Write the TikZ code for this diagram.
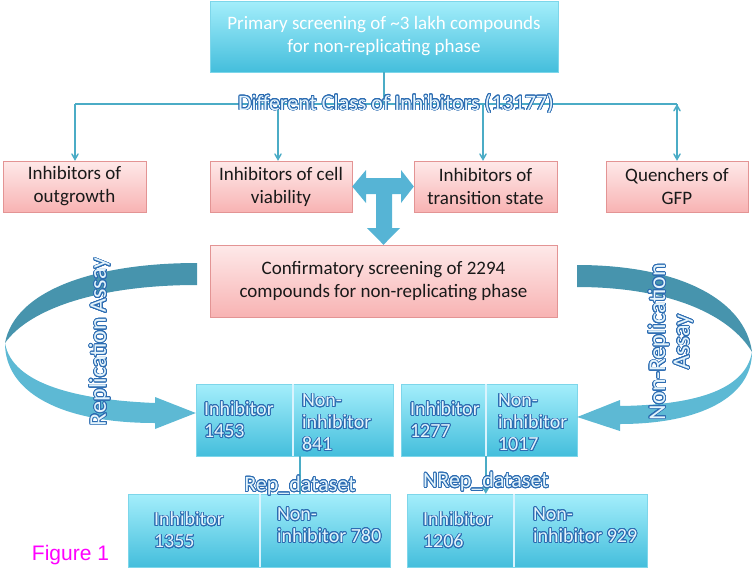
\documentclass[tikz,border=0pt]{standalone}
\usepackage{fontspec}
\setmainfont{Carlito}
\newfontfamily\figfont{Liberation Sans}
\usepackage{contour}
\contourlength{0.8pt}
\contournumber{24}
\usetikzlibrary{arrows}

\definecolor{linecol}{HTML}{4BACC6}
\definecolor{cyantop}{HTML}{A4EEFB}
\definecolor{cyanbot}{HTML}{44BEDC}
\definecolor{cyanrim}{HTML}{7DD6EA}
\definecolor{pinktop}{HTML}{FEE9E9}
\definecolor{pinkbot}{HTML}{F8B3B3}
\definecolor{pinkrim}{HTML}{E39494}
\definecolor{olfill}{HTML}{E4F4FC}
\definecolor{olrim}{HTML}{2C6CB2}
\definecolor{tarrow}{HTML}{56B4D5}
\definecolor{ribdark}{HTML}{4794AD}
\definecolor{riblight}{HTML}{5DB9D4}
\definecolor{figpink}{HTML}{FF00FF}

% outlined label text
\newcommand{\olt}[1]{{\color{olfill}\contour{olrim}{#1}}}

\begin{document}
\begin{tikzpicture}[x=1pt,y=-1pt,>=angle 60,
    cyanbox/.style={draw=cyanrim,top color=cyantop,bottom color=cyanbot,inner sep=0pt},
    pinkbox/.style={draw=pinkrim,top color=pinktop,bottom color=pinkbot,inner sep=0pt,
                    align=center,font=\fontsize{19}{23}\selectfont,text=black!90},
    wire/.style={draw=linecol,line width=1.5pt},
    oltext/.style={inner sep=0pt,font=\fontsize{22}{24}\selectfont},
    celltext/.style={anchor=west,align=left,inner sep=0pt,font=\fontsize{20}{22}\selectfont},
    divider/.style={draw=white!85!cyan,line width=1.5pt}]
\useasboundingbox (0,0) rectangle (755,568);

\node[cyanbox,minimum width=348pt,minimum height=71pt,text=white,align=center,
      font=\fontsize{19}{23}\selectfont] (top) at (384,36.5)
      {Primary screening of \textasciitilde3 lakh compounds\\for non-replicating phase};

\node[pinkbox,minimum width=143pt,minimum height=51pt] (p1) at (74.5,186.5) {Inhibitors of\\outgrowth};
\node[pinkbox,minimum width=142pt,minimum height=51pt] (p2) at (281,186.5) {Inhibitors of cell\\viability};
\node[pinkbox,minimum width=143pt,minimum height=51pt] (p3) at (485.5,186.5) {Inhibitors of\\transition state};
\node[pinkbox,minimum width=142pt,minimum height=51pt] (p4) at (677,186.5) {Quenchers of\\GFP};

\node[pinkbox,minimum width=347pt,minimum height=72pt] (conf) at (383.5,281)
      {Confirmatory screening of 2294\\compounds for non-replicating phase};

% class bus
\coordinate (hub) at (384,104);
\coordinate (a1) at (75,104);
\coordinate (a2) at (278,104);
\coordinate (a3) at (483,104);
\coordinate (a4) at (677,104);
\path[wire] (top.south) edge (hub)
            (a1) edge (a4);
\path[wire,->] (a1) edge (a1 |- p1.north)
               (a2) edge (a2 |- p2.north)
               (a3) edge (a3 |- p3.north)
               (a4) edge (a4 |- p4.north);
\node[oltext] (cls) at (396,104) {\olt{Different Class of Inhibitors (13177)}};

% T arrow
\fill[tarrow] (p2.east) -- (366,170) -- (366,178) -- (401,178) -- (401,170) -- (p3.west)
  -- (401,203) -- (401,194) -- (392,194) -- (392,228) -- (400,228) -- (conf.north)
  -- (367,228) -- (376,228) -- (376,194) -- (366,194) -- (366,203) -- cycle;

% result cells
\node[cyanbox,minimum width=97pt,minimum height=72pt] (m1a) at (244.5,420) {};
\node[cyanbox,minimum width=100pt,minimum height=72pt] (m1b) at (343,420) {};
\node[cyanbox,minimum width=85pt,minimum height=72pt] (m2a) at (443.5,420) {};
\node[cyanbox,minimum width=91pt,minimum height=72pt] (m2b) at (531.5,420) {};
\node[cyanbox,minimum width=132pt,minimum height=73pt] (b1a) at (194,530.5) {};
\node[cyanbox,minimum width=130pt,minimum height=73pt] (b1b) at (325,530.5) {};
\node[cyanbox,minimum width=107pt,minimum height=73pt] (b2a) at (460.5,530.5) {};
\node[cyanbox,minimum width=133pt,minimum height=73pt] (b2b) at (580.5,530.5) {};
\draw[divider] (m1a.north east) -- (m1a.south east);
\draw[divider] (m2a.north east) -- (m2a.south east);
\draw[divider] (b1a.north east) -- (b1a.south east);
\draw[divider] (b2a.north east) -- (b2a.south east);

\node[celltext] (t1a) at ([xshift=8pt]m1a.west) {\olt{Inhibitor}\\\olt{1453}};
\node[celltext] (t1b) at ([xshift=9pt,yshift=-3pt]m1b.west) {\olt{Non-}\\\olt{inhibitor}\\\olt{841}};
\node[celltext] (t2a) at ([xshift=9pt]m2a.west) {\olt{Inhibitor}\\\olt{1277}};
\node[celltext] (t2b) at ([xshift=12pt,yshift=-3pt]m2b.west) {\olt{Non-}\\\olt{inhibitor}\\\olt{1017}};
\node[celltext] (t3a) at ([xshift=26pt]b1a.west) {\olt{Inhibitor}\\\olt{1355}};
\node[celltext] (t3b) at ([xshift=17pt,yshift=5pt]b1b.west) {\olt{Non-}\\\olt{inhibitor 780}};
\node[celltext] (t4a) at ([xshift=16pt]b2a.west) {\olt{Inhibitor}\\\olt{1206}};
\node[celltext] (t4b) at ([xshift=19pt,yshift=5pt]b2b.west) {\olt{Non-}\\\olt{inhibitor 929}};

% dataset links
\draw[wire] ([xshift=7pt]m1b.south west) -- ([xshift=7pt]m1b.south west |- b1b.north);
\draw[wire,->] (m2b.south west) -- (m2b.south west |- b2a.north);
\node[oltext] (rep) at (300,486) {\olt{Rep\_dataset}};
\node[oltext] (nrep) at (486,482) {\olt{NRep\_dataset}};

% assay ribbons
\fill[ribdark] (197,263) .. controls (95,263) and (15,290) .. (5,343)
  .. controls (30,308) and (100,285) .. (197,285) -- cycle;
\fill[riblight] (5,343) .. controls (12,385) and (80,400) .. (155,403) -- (155,397)
  -- ([yshift=7pt]m1a.west) -- (155,429) -- (155,423)
  .. controls (60,423) and (5,392) .. (5,343) -- cycle;
\fill[ribdark] (577,265) .. controls (680,265) and (745,300) .. (752,352)
  .. controls (730,315) and (670,287) .. (577,287) -- cycle;
\fill[riblight] (752,352) .. controls (745,392) and (690,405) .. (620,406) -- (620,400)
  -- ([yshift=3pt]m2b.east) -- (620,431) -- (620,424)
  .. controls (700,424) and (752,397) .. (752,352) -- cycle;
\node[oltext,rotate=90,font=\fontsize{24}{24}\selectfont] (repl) at (100,342) {\olt{Replication Assay}};
\node[oltext,rotate=90,align=center,font=\fontsize{24}{24}\selectfont] (nrepl) at (671,342)
      {\olt{Non-Replication}\\\olt{Assay}};

\node[text=figpink,inner sep=0pt,font=\figfont\fontsize{21}{24}\selectfont] (fig) at (70.5,555) {Figure 1};
\end{tikzpicture}
\end{document}
